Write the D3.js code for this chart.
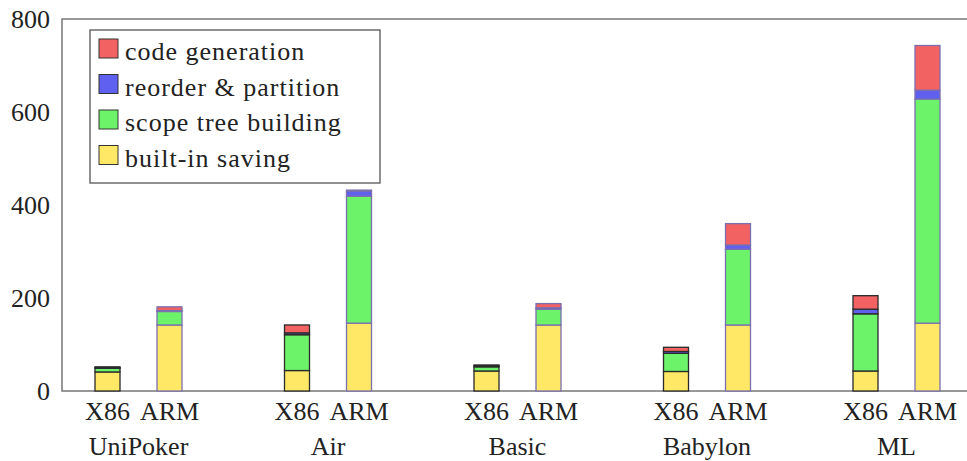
<!DOCTYPE html>
<html>
<head>
<meta charset="utf-8">
<script src="https://cdn.jsdelivr.net/npm/d3@7"></script>
<style>
  body { margin: 0; background: #fff; }
</style>
</head>
<body>
<svg width="967" height="461"></svg>
<script>
const benchmarks = ['UniPoker', 'Air', 'Basic', 'Babylon', 'ML'];
const archs = ['X86', 'ARM'];
const phases = ['built-in saving', 'scope tree building', 'reorder & partition', 'code generation'];

// values per phase, ordered UniPoker X86, UniPoker ARM, Air X86, ...
const builtinSaving = [41, 142, 44, 146, 43, 142, 42, 142, 43, 146];
const scopeTree = [8, 29, 77, 273, 9, 34, 39, 163, 123, 482];
const reorderPartition = [1, 2, 4, 11, 2, 3, 4, 9, 10, 19];
const codeGeneration = [2, 8, 17, 2, 2, 9, 9, 46, 29, 96];

const yTicks = [0, 200, 400, 600, 800];

const colors = {
  'built-in saving': '#ffe866',
  'scope tree building': '#6cf36a',
  'reorder & partition': '#5f5ff0',
  'code generation': '#f26262'
};
const strokeByArch = { X86: '#2a2a2a', ARM: '#7b6fae' };
const serif = "'Liberation Serif', 'DejaVu Serif', 'Times New Roman', serif";

const rows = [];
benchmarks.forEach((b, i) => {
  archs.forEach((a, j) => {
    const k = i * 2 + j;
    rows.push({
      bench: b, arch: a,
      'built-in saving': builtinSaving[k],
      'scope tree building': scopeTree[k],
      'reorder & partition': reorderPartition[k],
      'code generation': codeGeneration[k]
    });
  });
});

const svg = d3.select('svg')
  .attr('font-family', serif)
  .style('font-family', serif);
const plotLeft = 62, plotTop = 19, plotBottom = 391, plotRight = 975;

const x = d3.scalePoint().domain(benchmarks).range([138.5, 896.5]);
const xa = d3.scalePoint().domain(archs).range([-31, 31]);
const barW = 25;
const y = d3.scaleLinear().domain([0, 800]).range([plotBottom, plotTop]);

const stack = d3.stack().keys(phases);
const series = stack(rows);

// frame
svg.append('rect')
  .attr('x', plotLeft).attr('y', plotTop)
  .attr('width', plotRight - plotLeft).attr('height', plotBottom - plotTop)
  .attr('fill', 'none').attr('stroke', '#777').attr('stroke-width', 1.5);

// bars
svg.append('g')
  .selectAll('g')
  .data(series)
  .join('g')
  .attr('fill', d => colors[d.key])
  .selectAll('rect')
  .data(d => d)
  .join('rect')
  .attr('x', d => x(d.data.bench) + xa(d.data.arch) - barW / 2)
  .attr('y', d => y(d[1]))
  .attr('width', barW)
  .attr('height', d => y(d[0]) - y(d[1]))
  .attr('stroke', d => strokeByArch[d.data.arch])
  .attr('stroke-width', 1.3);

// y axis labels
svg.append('g')
  .attr('fill', '#222')
  .selectAll('text')
  .data(yTicks)
  .join('text')
  .attr('x', 50)
  .attr('y', d => y(d))
  .attr('dy', '0.35em')
  .attr('text-anchor', 'end')
  .attr('font-size', 26)
  .text(d => d);

// x labels
svg.append('g')
  .attr('fill', '#222')
  .selectAll('text')
  .data(rows)
  .join('text')
  .attr('x', d => x(d.bench) + xa(d.arch))
  .attr('y', 420)
  .attr('text-anchor', 'middle')
  .attr('font-size', 26)
  .text(d => d.arch);

svg.append('g')
  .attr('fill', '#222')
  .selectAll('text')
  .data(benchmarks)
  .join('text')
  .attr('x', d => x(d))
  .attr('y', 455)
  .attr('text-anchor', 'middle')
  .attr('font-size', 26)
  .text(d => d);

// legend
const legend = svg.append('g');
legend.append('rect')
  .attr('x', 90).attr('y', 30)
  .attr('width', 290).attr('height', 153)
  .attr('fill', '#fff').attr('stroke', '#555').attr('stroke-width', 1.3);

const legendItems = phases.slice().reverse();
const li = legend.selectAll('g.item')
  .data(legendItems)
  .join('g')
  .attr('class', 'item')
  .attr('transform', (d, i) => `translate(99, ${39 + i * 35.5})`);
li.append('rect')
  .attr('width', 19).attr('height', 19)
  .attr('fill', d => colors[d])
  .attr('stroke', '#333').attr('stroke-width', 1);
li.append('text')
  .attr('x', 26).attr('y', 12)
  .attr('dy', '0.35em')
  .attr('fill', '#222')
  .attr('font-size', 26)
  .attr('letter-spacing', 1)
  .text(d => d);
</script>
</body>
</html>
